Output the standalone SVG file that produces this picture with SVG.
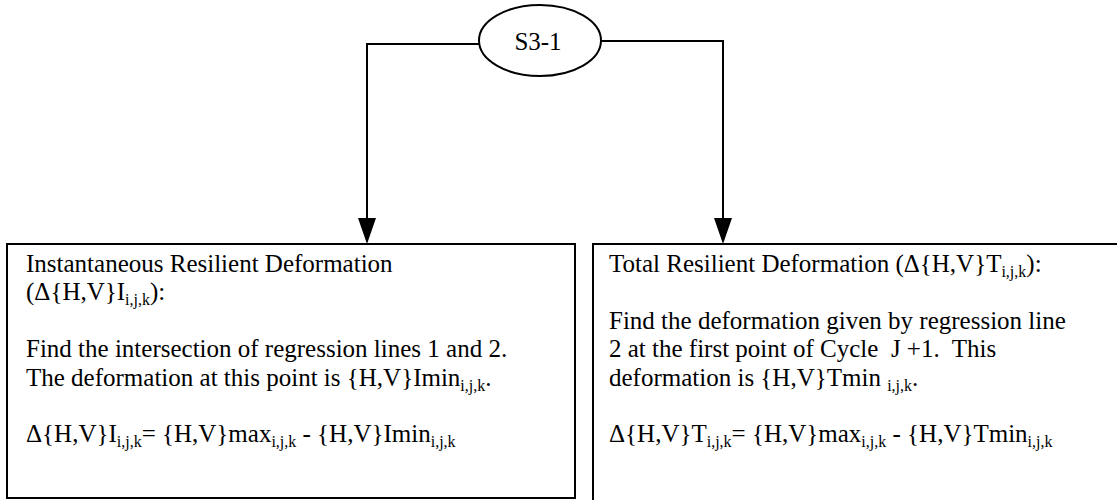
<svg xmlns="http://www.w3.org/2000/svg" width="1117" height="500" viewBox="0 0 1117 500">
<defs>
<style>
.t{font-family:"Liberation Serif","Times New Roman",serif;font-size:25px;fill:#000}
.s{font-size:16px}
.box{fill:#fff;stroke:#000;stroke-width:2}
.ln{fill:none;stroke:#000;stroke-width:2}
.ah{fill:#000}
</style>
</defs>
<rect width="1117" height="500" fill="#fff"/>
<g id="connectors">
<path class="ln" d="M479,44 H367 V222"/>
<path class="ln" d="M601,41 H723 V222"/>
<polygon class="ah" points="358,218 376,218 367,244"/>
<polygon class="ah" points="714,218 732,218 723,244"/>
</g>
<g id="s3-1">
<ellipse cx="540" cy="40.5" rx="61" ry="35.5" fill="#fff" stroke="#000" stroke-width="2"/>
<text class="t" x="538" y="50" text-anchor="middle">S3-1</text>
</g>
<g id="instantaneous">
<rect class="box" x="7" y="244" width="568" height="254"/>
<text class="t" x="26" y="272">Instantaneous Resilient Deformation</text>
<text class="t" x="26" y="300">(Δ{H,V}I<tspan class="s" dy="5">i,j,k</tspan><tspan dy="-5">):</tspan></text>
<text class="t" x="26" y="357">Find the intersection of regression lines 1 and 2.</text>
<text class="t" x="26" y="386">The deformation at this point is {H,V}Imin<tspan class="s" dy="5">i,j,k</tspan><tspan dy="-5">.</tspan></text>
<text class="t" x="26" y="442">Δ{H,V}I<tspan class="s" dy="5">i,j,k</tspan><tspan dy="-5">= {H,V}max</tspan><tspan class="s" dy="5">i,j,k</tspan><tspan dy="-5"> - {H,V}Imin</tspan><tspan class="s" dy="5">i,j,k</tspan></text>
</g>
<g id="total">
<rect class="box" x="593" y="244" width="540" height="280"/>
<text class="t" x="609" y="272">Total Resilient Deformation (Δ{H,V}T<tspan class="s" dy="5">i,j,k</tspan><tspan dy="-5">):</tspan></text>
<text class="t" x="609" y="329">Find the deformation given by regression line</text>
<text class="t" x="609" y="357" xml:space="preserve">2 at the first point of Cycle  J +1.  This</text>
<text class="t" x="609" y="386">deformation is {H,V}Tmin <tspan class="s" dy="5">i,j,k</tspan><tspan dy="-5">.</tspan></text>
<text class="t" x="609" y="442">Δ{H,V}T<tspan class="s" dy="5">i,j,k</tspan><tspan dy="-5">= {H,V}max</tspan><tspan class="s" dy="5">i,j,k</tspan><tspan dy="-5"> - {H,V}Tmin</tspan><tspan class="s" dy="5">i,j,k</tspan></text>
</g>
</svg>
